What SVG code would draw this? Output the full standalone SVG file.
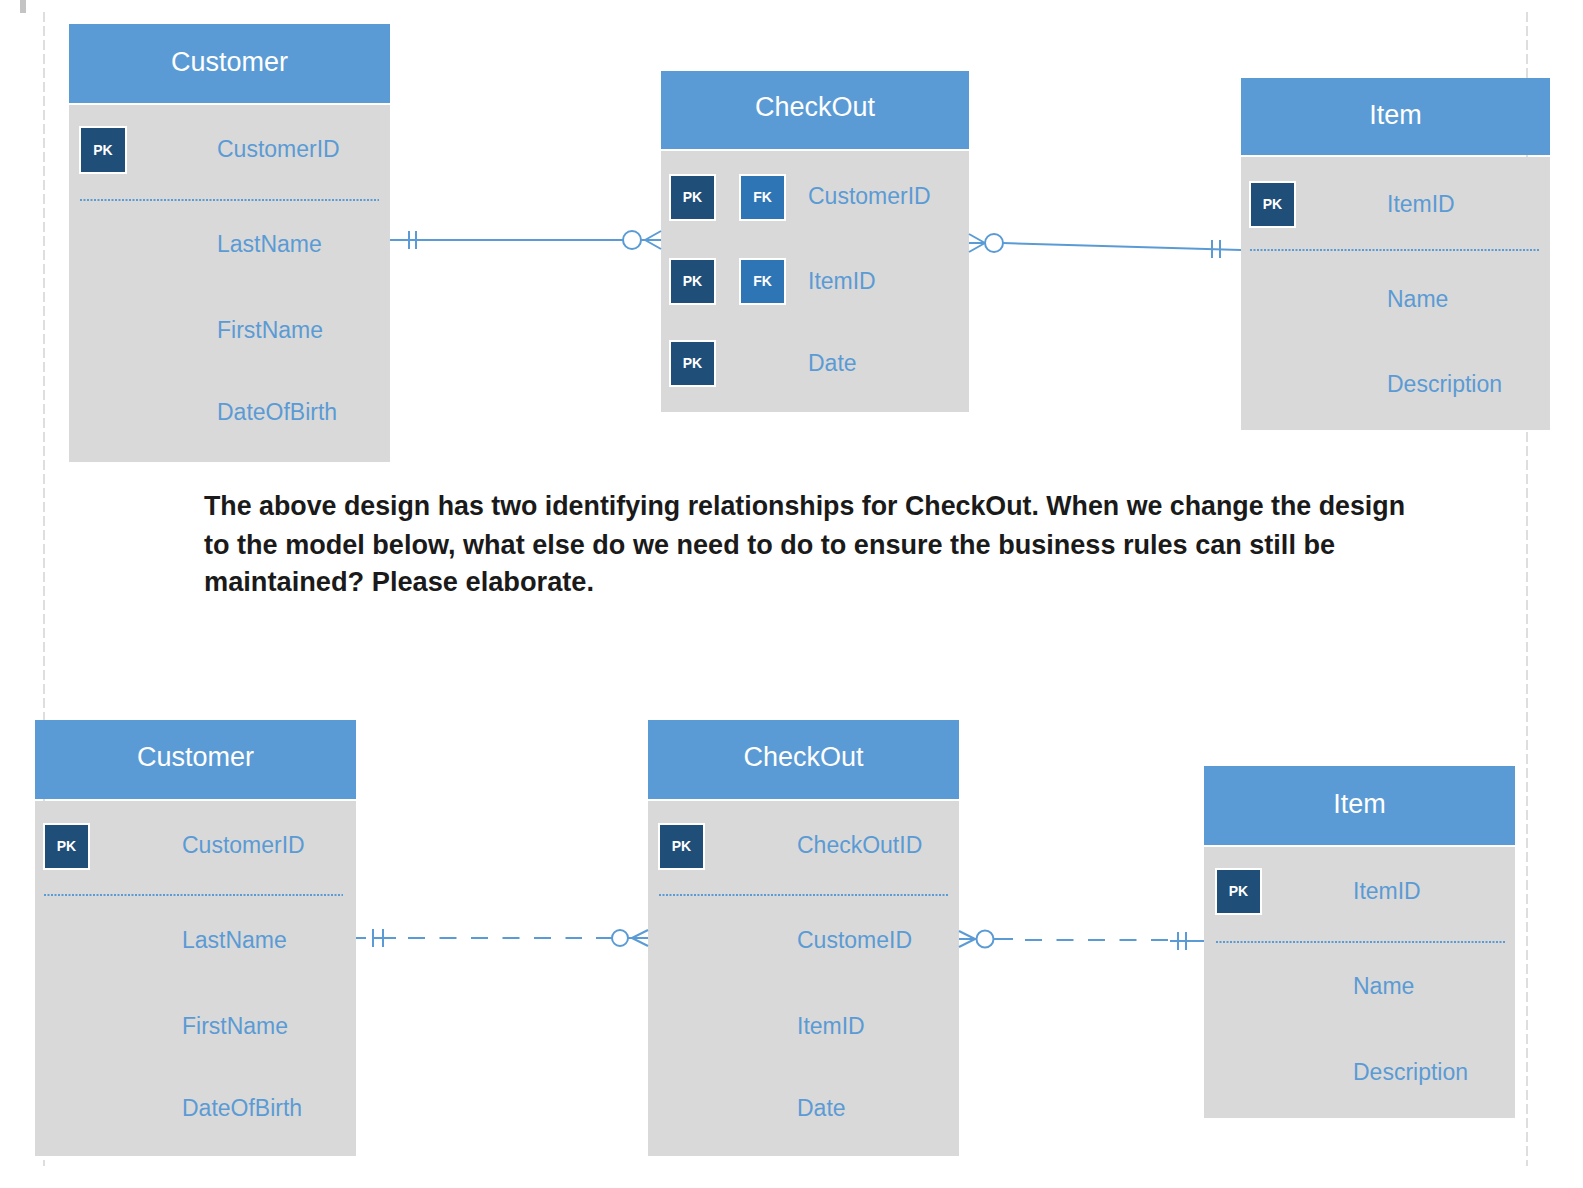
<svg xmlns="http://www.w3.org/2000/svg" width="1583" height="1188" viewBox="0 0 1583 1188">
<style>
.hdr{fill:#5b9bd5}
.body{fill:#d9d9d9}
.title{font-family:"Liberation Sans",Arial,sans-serif;font-size:27px;fill:#ffffff;text-anchor:middle}
.attr{font-family:"Liberation Sans",Arial,sans-serif;font-size:23px;fill:#5b9bd5}
.pk{fill:#1f4e79;stroke:#ffffff;stroke-width:2}
.fk{fill:#2e75b6;stroke:#ffffff;stroke-width:2}
.key{font-family:"Liberation Sans",Arial,sans-serif;font-size:14px;font-weight:bold;fill:#ffffff;text-anchor:middle}
.sep{stroke:#5b9bd5;stroke-width:2;stroke-dasharray:2 1.5;fill:none}
.con{stroke:#5b9bd5;stroke-width:2;fill:none}
.dash{stroke:#5b9bd5;stroke-width:2;fill:none;stroke-dasharray:17 14.5}
.frame{stroke:#d4d4d4;stroke-width:1.5;stroke-dasharray:10 4;fill:none}
.para{font-family:"Liberation Sans",Arial,sans-serif;font-size:27px;font-weight:bold;fill:#1a1a1a}
</style>
<rect width="1583" height="1188" fill="#ffffff"/>
<rect x="20" y="0" width="6" height="13" fill="#c4c4c4"/>
<line class="frame" x1="44" y1="12" x2="44" y2="1166"/>
<line class="frame" x1="1527" y1="12" x2="1527" y2="1166"/>

<g id="customer-top">
<rect class="hdr" x="69" y="24" width="321" height="79"/>
<rect class="body" x="69" y="105" width="321" height="357"/>
<text class="title" x="229.5" y="70.5">Customer</text>
<rect class="pk" x="80" y="127" width="46" height="46"/>
<text class="key" x="103" y="155">PK</text>
<text class="attr" x="217" y="157">CustomerID</text>
<line class="sep" x1="80" y1="200" x2="379" y2="200"/>
<text class="attr" x="217" y="252">LastName</text>
<text class="attr" x="217" y="338">FirstName</text>
<text class="attr" x="217" y="420">DateOfBirth</text>
</g>

<g id="checkout-top">
<rect class="hdr" x="661" y="71" width="308" height="78"/>
<rect class="body" x="661" y="151" width="308" height="261"/>
<text class="title" x="815" y="115.5">CheckOut</text>
<rect class="pk" x="670" y="175" width="45" height="45"/>
<text class="key" x="692.5" y="202">PK</text>
<rect class="fk" x="740" y="175" width="45" height="45"/>
<text class="key" x="762.5" y="202">FK</text>
<text class="attr" x="808" y="204">CustomerID</text>
<rect class="pk" x="670" y="259" width="45" height="45"/>
<text class="key" x="692.5" y="286">PK</text>
<rect class="fk" x="740" y="259" width="45" height="45"/>
<text class="key" x="762.5" y="286">FK</text>
<text class="attr" x="808" y="289">ItemID</text>
<rect class="pk" x="670" y="341" width="45" height="45"/>
<text class="key" x="692.5" y="368">PK</text>
<text class="attr" x="808" y="371">Date</text>
</g>

<g id="item-top">
<rect class="hdr" x="1241" y="78" width="309" height="77"/>
<rect class="body" x="1241" y="157" width="309" height="273"/>
<text class="title" x="1395.5" y="123.5">Item</text>
<rect class="pk" x="1250" y="182" width="45" height="45"/>
<text class="key" x="1272.5" y="209">PK</text>
<text class="attr" x="1387" y="212">ItemID</text>
<line class="sep" x1="1250" y1="250" x2="1540" y2="250"/>
<text class="attr" x="1387" y="307">Name</text>
<text class="attr" x="1387" y="392">Description</text>
</g>

<g id="question">
<text class="para" x="204" y="515" textLength="1201" lengthAdjust="spacingAndGlyphs">The above design has two identifying relationships for CheckOut. When we change the design</text>
<text class="para" x="204" y="554" textLength="1131" lengthAdjust="spacingAndGlyphs">to the model below, what else do we need to do to ensure the business rules can still be</text>
<text class="para" x="204" y="591" textLength="390" lengthAdjust="spacingAndGlyphs">maintained? Please elaborate.</text>
</g>

<g id="customer-bottom">
<rect class="hdr" x="35" y="720" width="321" height="79"/>
<rect class="body" x="35" y="801" width="321" height="355"/>
<text class="title" x="195.5" y="765.5">Customer</text>
<rect class="pk" x="44" y="824" width="45" height="45"/>
<text class="key" x="66.5" y="851">PK</text>
<text class="attr" x="182" y="853">CustomerID</text>
<line class="sep" x1="44" y1="895" x2="343" y2="895"/>
<text class="attr" x="182" y="948">LastName</text>
<text class="attr" x="182" y="1034">FirstName</text>
<text class="attr" x="182" y="1116">DateOfBirth</text>
</g>

<g id="checkout-bottom">
<rect class="hdr" x="648" y="720" width="311" height="79"/>
<rect class="body" x="648" y="801" width="311" height="355"/>
<text class="title" x="803.5" y="765.5">CheckOut</text>
<rect class="pk" x="659" y="824" width="45" height="45"/>
<text class="key" x="681.5" y="851">PK</text>
<text class="attr" x="797" y="853">CheckOutID</text>
<line class="sep" x1="659" y1="895" x2="949" y2="895"/>
<text class="attr" x="797" y="948">CustomeID</text>
<text class="attr" x="797" y="1034">ItemID</text>
<text class="attr" x="797" y="1116">Date</text>
</g>

<g id="item-bottom">
<rect class="hdr" x="1204" y="766" width="311" height="79"/>
<rect class="body" x="1204" y="847" width="311" height="271"/>
<text class="title" x="1359.5" y="812.5">Item</text>
<rect class="pk" x="1216" y="869" width="45" height="45"/>
<text class="key" x="1238.5" y="896">PK</text>
<text class="attr" x="1353" y="899">ItemID</text>
<line class="sep" x1="1216" y1="942" x2="1505" y2="942"/>
<text class="attr" x="1353" y="994">Name</text>
<text class="attr" x="1353" y="1080">Description</text>
</g>

<g id="connectors">
<!-- top: Customer to CheckOut -->
<line class="con" x1="390" y1="240" x2="623" y2="240"/>
<line class="con" x1="409" y1="231" x2="409" y2="249"/>
<line class="con" x1="416" y1="231" x2="416" y2="249"/>
<circle class="con" cx="632" cy="240" r="9"/>
<path class="con" d="M641 240 H661 M645 240 L661 231 M645 240 L661 249"/>
<!-- top: CheckOut to Item -->
<path class="con" d="M969 234 L985 243 M969 252 L985 243 M969 243 H985"/>
<circle class="con" cx="994" cy="243" r="9"/>
<line class="con" x1="1003" y1="243" x2="1241" y2="250"/>
<line class="con" x1="1212" y1="240" x2="1212" y2="258"/>
<line class="con" x1="1220" y1="240" x2="1220" y2="258"/>
<!-- bottom: Customer to CheckOut -->
<line class="con" x1="356" y1="938" x2="366" y2="938"/>
<line class="con" x1="372.5" y1="938" x2="396" y2="938"/>
<line class="con" x1="373" y1="929" x2="373" y2="947"/>
<line class="con" x1="383" y1="929" x2="383" y2="947"/>
<line class="dash" x1="408" y1="938" x2="582" y2="938"/>
<line class="con" x1="596" y1="938" x2="612" y2="938"/>
<circle class="con" cx="620" cy="938" r="8"/>
<path class="con" d="M628 938 H648 M632 938 L648 930 M632 938 L648 946"/>
<!-- bottom: CheckOut to Item -->
<path class="con" d="M959 931 L975 939 M959 947 L975 939 M959 939 H977"/>
<circle class="con" cx="985" cy="939" r="8.5"/>
<line class="con" x1="993.5" y1="939" x2="1013" y2="939"/>
<line class="dash" x1="1025" y1="940" x2="1170" y2="940"/>
<line class="con" x1="1170" y1="941" x2="1204" y2="941"/>
<line class="con" x1="1178" y1="932" x2="1178" y2="950"/>
<line class="con" x1="1186" y1="932" x2="1186" y2="950"/>
</g>
</svg>
